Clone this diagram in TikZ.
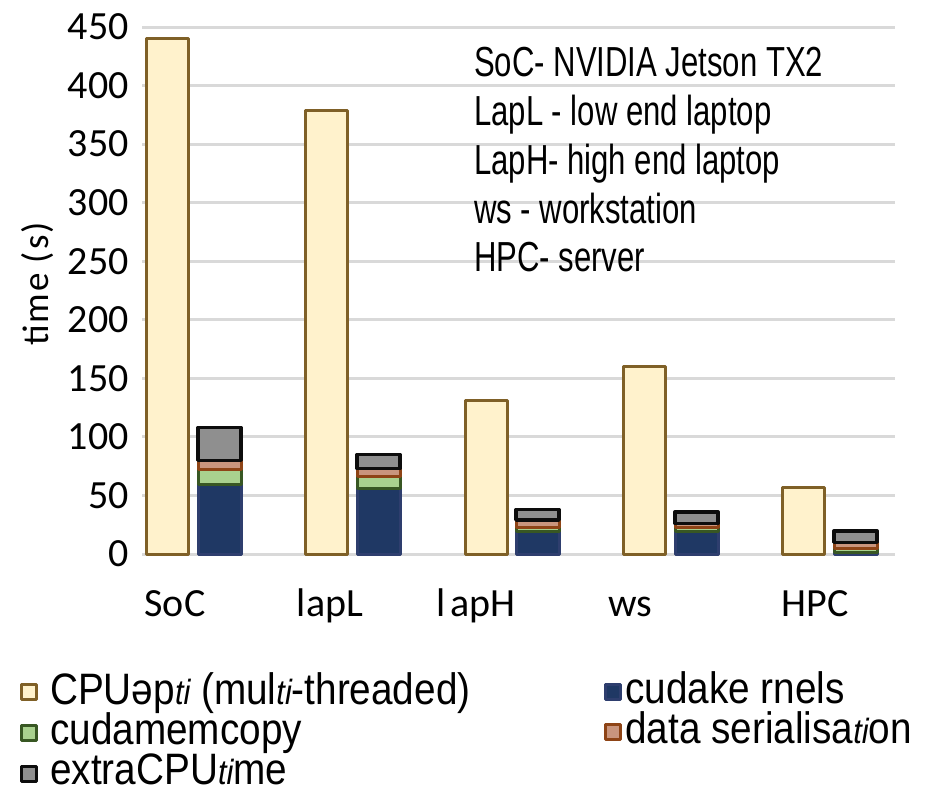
\documentclass[tikz,border=0pt]{standalone}
\usepackage{fontspec}
\setmainfont{Carlito}
\newfontfamily\annfont[FakeStretch=0.74]{Liberation Sans}
\newfontfamily\legfont[FakeStretch=0.88]{Liberation Sans}
\newcommand\tilig[1]{{\itshape\fontsize{35}{40}\selectfont #1}}
\definecolor{gridc}{HTML}{D9D9D9}
\definecolor{cpuf}{HTML}{FFF2CC}
\definecolor{cpud}{HTML}{7F6027}
\definecolor{kerf}{HTML}{1F3864}
\definecolor{kerd}{HTML}{2E3E6E}
\definecolor{memf}{HTML}{A9D18E}
\definecolor{memd}{HTML}{385723}
\definecolor{serf}{HTML}{C9957D}
\definecolor{serd}{HTML}{8E4416}
\definecolor{extf}{HTML}{8F8F8F}
\definecolor{extd}{HTML}{0D0D0D}
\tikzset{
  gridline/.style={draw=gridc, line width=3pt},
  barseg/.style={line width=3pt, line join=round},
  cpubar/.style={barseg, fill=cpuf, draw=cpud},
  kerbar/.style={barseg, fill=kerf, draw=kerd},
  membar/.style={barseg, fill=memf, draw=memd},
  serbar/.style={barseg, fill=serf, draw=serd},
  extbar/.style={barseg, line width=3.5pt, fill=extf, draw=extd},
  ticklab/.style={anchor=east, inner sep=0pt, font=\fontsize{40}{46}\selectfont},
  catlab/.style={anchor=base, inner sep=0pt, font=\fontsize{40}{46}\selectfont},
  anntext/.style={anchor=base west, inner sep=0pt, font=\annfont\fontsize{42}{48}\selectfont},
  legtext/.style={anchor=base west, inner sep=0pt, font=\legfont\fontsize{44}{48}\selectfont},
  legbox/.style={line width=3pt, minimum size=15pt, inner sep=0pt, line join=round},
}
\begin{document}
\begin{tikzpicture}[x=1pt,y=-1pt]
\useasboundingbox (0,0) rectangle (934,793);
\fill[white] (0,0) rectangle (934,793);
% grid and tick labels
\foreach \v in {0,50,...,450}{
  \draw[gridline] (142,{554-\v*1.1711}) -- (895,{554-\v*1.1711});
  \node[ticklab] (tick\v) at (129,{554-\v*1.1711}) {\v};
}
\node[rotate=90, inner sep=0pt, font=\addfontfeatures{LetterSpace=5}\fontsize{37}{42}\selectfont] (ylab) at (38,284) {time (s)};
% CPU bars
\foreach \x/\v in {146/440, 305/379, 465/131, 623/160.5, 782/57}{
  \draw[cpubar] (\x,554) rectangle (\x+42,{554-\v*1.1711});
}
% GPU stacks
\foreach \L/\k/\m/\s/\e in {198/59/13/8/28, 357/56/10/7/12, 516/19/3.5/6.5/9, 675/19.5/3/3.5/10, 834/1/4/5/9.6}{
  \draw[kerbar] (\L,554) rectangle (\L+43,{554-\k*1.1711});
  \draw[membar] (\L,{554-\k*1.1711}) rectangle (\L+43,{554-(\k+\m)*1.1711});
  \draw[serbar] (\L,{554-(\k+\m)*1.1711}) rectangle (\L+43,{554-(\k+\m+\s)*1.1711});
  \draw[extbar] (\L,{554-(\k+\m+\s)*1.1711}) rectangle (\L+43,{554-(\k+\m+\s+\e)*1.1711});
}
% category labels
\node[catlab] (cSoC) at (175,616) {SoC};
\node[catlab] (clapL) at (330,616) {lapL};
\node[catlab] (clapH) at (476,616) {l\hspace{5pt}apH};
\node[catlab] (cws) at (630,616) {ws};
\node[catlab] (cHPC) at (815,616) {HPC};
% annotation text
\node[anntext] (a1) at (474,76) {SoC- NVIDIA Jetson TX2};
\node[anntext] (a2) at (474,125) {LapL - low end laptop};
\node[anntext] (a3) at (474,174) {LapH- high end laptop};
\node[anntext] (a4) at (474,223) {ws - workstation};
\node[anntext] (a5) at (474,271) {HPC- server};
% legend
\node[legbox, fill=cpuf, draw=cpud] (m1) at (29,692) {};
\node[legtext] (l1) at (50,704) {CPUəp\tilig{ti} (mul\tilig{ti}-threaded)};
\node[legbox, fill=memf, draw=memd] (m2) at (29,733) {};
\node[legtext] (l2) at (50,744) {cudamemcopy};
\node[legbox, fill=extf, draw=extd] (m3) at (29,774) {};
\node[legtext] (l3) at (50,784) {extraCPU\tilig{ti}me};
\node[legbox, fill=kerf, draw=kerd] (m4) at (613,692) {};
\node[legtext] (l4) at (625,703) {cudake rnels};
\node[legbox, fill=serf, draw=serd] (m5) at (613,732) {};
\node[legtext] (l5) at (625,743) {data serialisa\tilig{ti}on};
\end{tikzpicture}
\end{document}
